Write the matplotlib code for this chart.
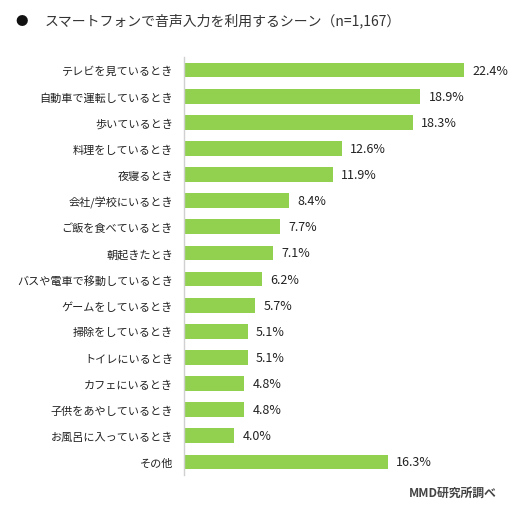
import matplotlib
matplotlib.use("Agg")
import matplotlib.pyplot as plt

plt.rcParams['font.family'] = ['Noto Sans CJK JP', 'DejaVu Sans']

scenes = ["テレビを見ているとき", "自動車で運転しているとき", "歩いているとき",
          "料理をしているとき", "夜寝るとき", "会社/学校にいるとき",
          "ご飯を食べているとき", "朝起きたとき", "バスや電車で移動しているとき",
          "ゲームをしているとき", "掃除をしているとき", "トイレにいるとき",
          "カフェにいるとき", "子供をあやしているとき", "お風呂に入っているとき", "その他"]
shares = [22.4, 18.9, 18.3, 12.6, 11.9, 8.4, 7.7, 7.1, 6.2, 5.7, 5.1, 5.1, 4.8, 4.8, 4.0, 16.3]

W, H = 528, 510
fig = plt.figure(figsize=(W / 100, H / 100), dpi=100)
ax = fig.add_axes([184 / W, 1 - 476 / H, 326 / W, 418 / H])

y = range(len(scenes))
ax.barh(y, shares, height=0.56, color="#92d050")
ax.set_ylim(len(scenes) - 0.5, -0.5)
ax.set_xlim(0, 326 / 12.5)

for yi, v in zip(y, shares):
    ax.annotate(f"{v:.1f}%", (v, yi), xytext=(6, 0), textcoords="offset points",
                va="center", ha="left", fontsize=9, color="#222222")

ax.set_yticks(list(y))
ax.set_yticklabels(scenes, fontsize=8, color="#222222")
ax.tick_params(axis="y", length=0, pad=8)
ax.set_xticks([])
for s in ["top", "right", "bottom"]:
    ax.spines[s].set_visible(False)
ax.spines["left"].set_color("#d0d0d0")
ax.spines["left"].set_linewidth(1)

fig.text(22 / W, 1 - 21 / H, "●", fontsize=9, color="#111111", va="center", ha="center")
fig.text(45 / W, 1 - 21 / H, "スマートフォンで音声入力を利用するシーン（n=1,167）",
         fontsize=10, color="#333333", va="center", ha="left")
fig.text(497 / W, 1 - 493 / H, "MMD研究所調べ", fontsize=8.5, color="#444444",
         fontweight="bold", va="center", ha="right")

fig.savefig("out.png", dpi=100)
